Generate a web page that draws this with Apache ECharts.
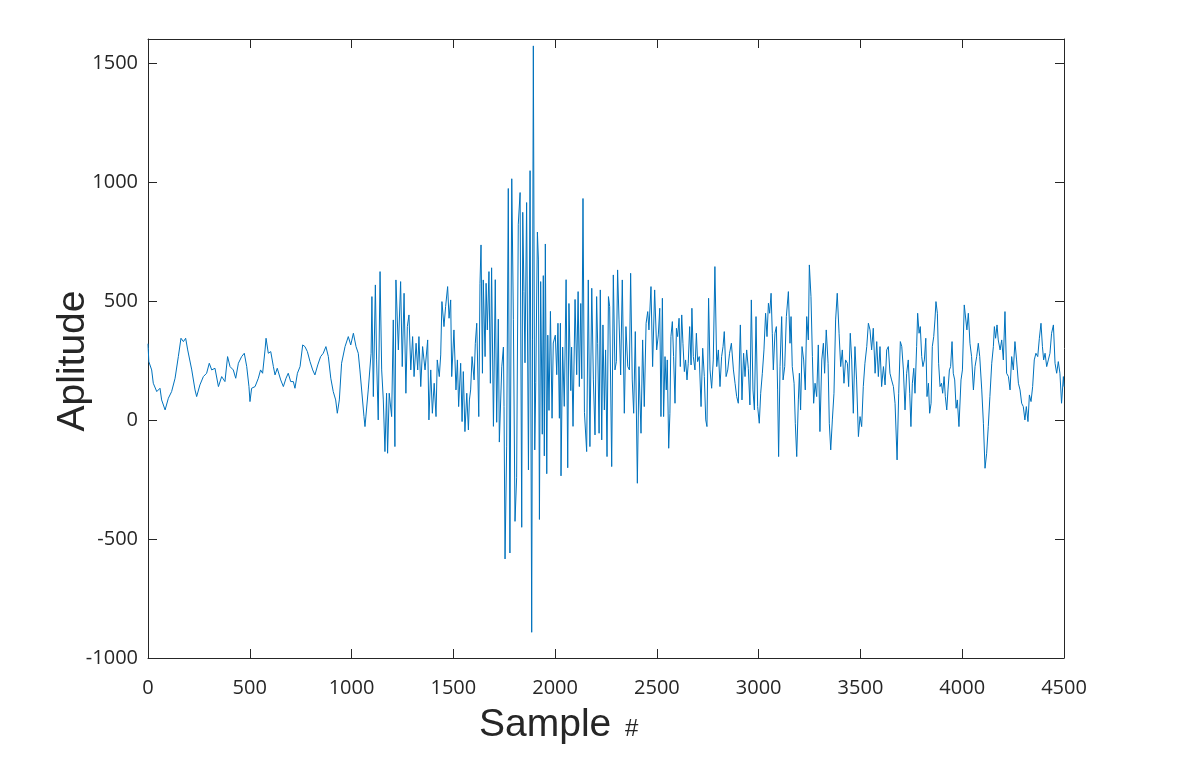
<!DOCTYPE html>
<html>
<head>
<meta charset="utf-8">
<title>Aplitude</title>
<script src="https://cdn.jsdelivr.net/npm/echarts@6/dist/echarts.min.js"></script>
<style>
    html, body { margin: 0; padding: 0; background: #fff; }
    #main { width: 1184px; height: 761px; }
</style>
</head>
<body>
<div id="main"></div>
<script>
// sample index / amplitude
var sampleIdx = [
    0,4,18,26,43,59,67,84,100,116,133,149,162,174,185,195,215,231,239,255,272,288,301,313,329,346,362,378,391,403,419,431,444,460,473,485,496,
    501,509,526,542,553,563,575,580,591,603,616,624,635,652,665,678,689,701,714,722,734,747,760,771,783,796,809,820,834,848,861,874,886,898,910,922,930,940,951,968,984,996,1009,1022,1033,1041,
    1061,1066,1082,1096,1100,1107,1117,1123,1131,1140,1148,1156,1164,1172,1177,1185,1197,1205,1213,1218,1230,1241,1249,1258,1267,1274,1282,1291,1300,1307,1317,1325,1331,1340,1349,1361,1374,1380,1389,1397,1406,1415,1421,1431,1438,1444,1454,1462,1472,1479,1487,
    1492,1503,1513,1520,1526,1536,1543,1549,1557,1566,1574,1579,1585,1592,1602,1608,1615,1625,1631,1636,1643,1647,1656,1661,1667,1675,1682,
    1688,1697,1706,1713,1721,1726,1738,1746,1749,1754,1762,1770,1778,1787,1795,1803,1811,1819,1828,1836,1841,1847,1852,1860,1869,1877,1885,1893,1900,1905,1913,1918,1923,1929,1937,1942,1947,1952,1959,1964,1970,1977,1985,1991,2001,2008,2014,2021,2026,2029,2037,2045,2054,2062,2068,2077,2081,2088,2098,2106,2113,2119,2126,2131,2137,2144,
    2155,2163,2171,2180,2188,2196,2204,2209,2216,2222,2229,2235,2242,2248,2255,2262,2268,2278,2286,2294,2301,2307,2314,2322,2330,2340,2348,2357,2365,2371,2379,2386,2394,2404,2412,2422,2430,2438,2447,2455,2461,2471,2479,2489,
    2499,2507,2514,2520,2527,2533,2540,2546,2551,2558,2564,2569,2576,2582,2589,2596,2602,2609,2615,2622,2628,2635,2641,2648,2654,2661,2668,2672,2679,2687,2694,2700,2708,2717,2725,2733,2740,2746,2754,2761,2769,2777,2785,2794,2802,2810,2818,2825,2831,2840,2848,2857,2866,2876,2884,2892,2900,2910,2918,2926,2933,2941,2949,2957,2964,2972,2979,2987,2995,3003,
    3010,3018,3026,3034,3041,3048,3054,3061,3067,3072,3080,3087,3093,3098,3105,3113,3120,3128,3136,3146,3154,3159,3165,3174,3180,3187,3195,3200,3206,3213,3221,3229,3236,3244,3249,3257,3264,3270,3277,3285,3293,3301,3310,3318,3324,3332,3341,3347,3354,3362,3370,3378,3386,3395,3403,3411,3419,3427,3436,3442,3450,3457,3465,3473,
    3481,3490,3498,3506,3514,3522,3531,3539,3547,3555,3563,3572,3580,3588,3596,3604,3613,3621,3629,3637,3645,3653,3662,3670,3680,3688,3696,3703,3711,3719,3727,3735,3742,3748,3755,3762,3768,3776,3781,3788,3794,3801,3807,3814,3821,3827,3834,3840,3847,3853,3860,3866,3871,3878,3884,3891,3898,3904,3911,3917,3924,3930,3937,3943,3950,3956,3963,3970,3976,
    3984,3994,4001,4010,4017,4023,4030,4038,4046,4055,4063,4071,4079,4086,4096,4104,4112,4120,4128,4136,4145,4153,4158,4164,4171,4177,4186,4194,4202,4210,4218,4227,4235,4243,4251,4259,4267,4276,4284,4292,4300,4308,4315,4323,4330,4338,4346,4354,4362,4371,4379,4387,4394,4400,4407,4415,4423,4431,4439,4448,4456,4464,4472,4480,4488,4497,4500
];
var amplitude = [
    320,245,210,154,119,133,84,42,91,119,175,266,343,329,343,294,210,126,98,147,182,196,238,210,217,140,182,161,266,224,210,175,238,266,280,224,140,
    77,133,140,175,210,196,294,343,280,287,224,189,217,168,140,175,196,161,161,133,196,224,315,308,287,245,210,189,231,266,280,308,266,175,119,84,28,84,238,308,350,315,364,308,280,210,
    14,-28,126,280,518,98,567,252,0,623,210,84,-133,112,-140,112,14,420,-112,588,294,581,224,532,112,392,441,210,350,182,322,210,350,140,308,210,336,0,210,28,154,14,252,182,273,497,392,476,560,427,504,
    182,378,126,252,56,238,-7,203,-49,112,-42,84,126,266,168,322,406,14,574,735,196,588,266,574,378,623,154,
    639,-27,589,-10,423,-93,223,306,57,-584,-110,972,-559,1013,423,-426,-243,822,955,-451,872,539,240,913,-210,1047,-892,1571,-126,156,789,672,-418,581,-60,606,-151,739,-226,356,40,456,7,323,356,190,406,7,406,-235,306,57,589,-201,489,123,306,-27,506,190,539,140,489,173,930,32,
    -133,588,-112,553,168,-63,518,322,-56,546,-84,399,42,294,-154,518,476,-196,609,210,245,630,420,189,588,28,392,224,210,616,168,28,371,-266,224,-56,336,56,406,455,378,560,224,546,
    294,357,469,14,511,14,266,126,252,-119,28,350,413,266,70,385,350,427,224,441,322,203,252,168,238,392,231,469,266,210,364,245,266,56,301,182,0,-28,511,210,133,252,644,224,294,140,266,308,371,182,210,280,322,210,154,98,70,399,84,280,182,294,217,63,504,126,42,434,56,-14,
    112,196,294,448,350,490,448,532,364,210,364,392,126,-154,224,434,168,224,434,539,322,434,224,154,-14,-154,84,196,42,308,252,126,434,336,651,518,266,70,154,98,315,-49,252,322,196,378,238,-14,-126,0,112,420,532,364,224,294,154,252,238,140,364,252,28,308,
    168,-70,14,-28,140,238,308,406,378,294,385,196,329,182,308,140,224,147,294,308,196,168,140,70,-168,112,329,308,210,42,196,252,112,-28,154,217,112,308,448,364,392,266,224,252,343,98,154,28,70,308,350,420,497,448,238,140,154,112,182,98,42,126,210,224,329,196,168,49,84,
    -28,168,210,483,490,378,448,322,266,126,224,266,322,266,126,-14,-203,-140,-28,98,238,308,392,343,399,336,294,336,252,455,196,182,126,266,210,329,252,154,126,70,56,0,56,-7,105,77,140,252,280,266,343,406,308,252,280,224,252,280,364,399,238,196,245,196,70,182,140
];
var xTicks = { min: 0, max: 4500, step: 500 };
var yTicks = { min: -1000, max: 1600, step: 500 };

var axisColor = '#262626';
var tickFont = 'Open Sans';

var points = [];
for (var i = 0; i < sampleIdx.length; i++) {
    points.push([sampleIdx[i], amplitude[i]]);
}

function plainLabel(v) {
    return (v % 500 === 0) ? String(v) : '';
}

// one axis for each side of the box, ticks pointing in
function boxAxis(pos, t, withLabels, margin) {
    return {
        type: 'value',
        position: pos,
        min: t.min,
        max: t.max,
        interval: t.step,
        axisLine: { show: true, onZero: false, lineStyle: { color: axisColor, width: 1 } },
        axisTick: { show: true, inside: true, length: 9, lineStyle: { color: axisColor } },
        axisLabel: {
            show: withLabels,
            color: axisColor,
            fontFamily: tickFont,
            fontSize: 20,
            margin: margin,
            formatter: plainLabel,
            showMaxLabel: pos === 'left' ? false : null
        },
        splitLine: { show: false }
    };
}

var myChart = echarts.init(document.getElementById('main'), null, { renderer: 'canvas' });
var option = {
    backgroundColor: '#ffffff',
    animation: false,
    grid: {
        left: 148,
        right: 120,
        top: 39,
        bottom: 103,
        containLabel: false,
        outerBoundsMode: 'none'
    },
    xAxis: [
        boxAxis('bottom', xTicks, true, 20),
        boxAxis('top', xTicks, false, 8)
    ],
    yAxis: [
        boxAxis('left', yTicks, true, 10),
        boxAxis('right', yTicks, false, 8)
    ],
    graphic: [
        {
            type: 'text',
            x: 73,
            y: 361,
            rotation: Math.PI / 2,
            style: {
                text: 'Aplitude',
                fill: axisColor,
                font: '39px "Liberation Sans", Arial, sans-serif',
                align: 'center',
                verticalAlign: 'middle'
            }
        },
        {
            type: 'text',
            x: 479,
            y: 725,
            style: {
                text: 'Sample',
                fill: axisColor,
                font: '39px "Liberation Sans", Arial, sans-serif',
                align: 'left',
                verticalAlign: 'middle'
            }
        },
        {
            type: 'text',
            x: 625,
            y: 729,
            style: {
                text: '#',
                fill: axisColor,
                font: '24px "Liberation Sans", Arial, sans-serif',
                align: 'left',
                verticalAlign: 'middle'
            }
        }
    ],
    series: [
        {
            name: 'Aplitude',
            type: 'line',
            xAxisIndex: 0,
            yAxisIndex: 0,
            data: points,
            showSymbol: false,
            symbol: 'none',
            lineStyle: { color: '#0072BD', width: 1 },
            z: 1
        }
    ]
};
myChart.setOption(option);
</script>
</body>
</html>
